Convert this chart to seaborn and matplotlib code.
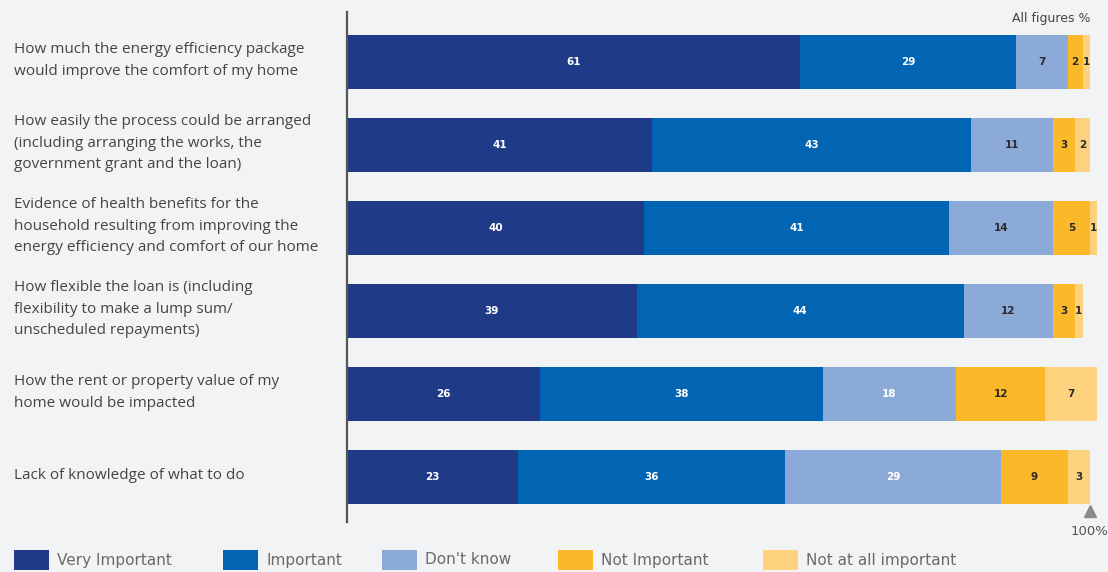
import matplotlib
matplotlib.use("Agg")
import matplotlib.pyplot as plt
import matplotlib.transforms as mtransforms
from matplotlib.patches import Rectangle
import numpy as np
import pandas as pd
import seaborn as sns

# Survey factors (one row per question)
factors = [
    "How much the energy efficiency package\nwould improve the comfort of my home",
    "How easily the process could be arranged\n(including arranging the works, the\ngovernment grant and the loan)",
    "Evidence of health benefits for the\nhousehold resulting from improving the\nenergy efficiency and comfort of our home",
    "How flexible the loan is (including\nflexibility to make a lump sum/\nunscheduled repayments)",
    "How the rent or property value of my\nhome would be impacted",
    "Lack of knowledge of what to do",
]

responses = ["Very Important", "Important", "Don't know", "Not Important", "Not at all important"]

very_important = [61, 41, 40, 39, 26, 23]
important = [29, 43, 41, 44, 38, 36]
dont_know = [7, 11, 14, 12, 18, 29]
not_important = [2, 3, 5, 3, 12, 9]
not_at_all = [1, 2, 1, 1, 7, 3]

colors = ["#1f3b87", "#0265b3", "#8caad8", "#fbb829", "#fdd27e"]
label_colors = ["white", "white", None, "#2a2a2a", "#2a2a2a"]

series = [very_important, important, dont_know, not_important, not_at_all]
keys = ["f%d" % i for i in range(len(factors))]
df = pd.DataFrame({"factor": keys})
for name, vals in zip(responses, series):
    df[name] = vals
cum = df[responses].cumsum(axis=1)

bg = "#f2f3f5"
fig = plt.figure(figsize=(11.08, 5.72), dpi=100, facecolor=bg)
ax = fig.add_axes([347 / 1108, 1 - 522 / 572, 753 / 1108, 510 / 572])
ax.set_facecolor(bg)

# Stacked bars: draw cumulative totals from the outermost segment inward
for i in range(len(responses) - 1, -1, -1):
    sns.barplot(data=cum.assign(factor=keys), x=responses[i], y="factor",
                order=keys, orient="h", color=colors[i], width=0.64,
                linewidth=0, saturation=1, ax=ax)

# Segment value labels
for i, name in enumerate(responses):
    for r in range(len(keys)):
        v = df[name].iloc[r]
        center = cum[name].iloc[r] - v / 2
        if name == "Don't know":
            tc = "#2a2a2a" if v < 15 else "white"
        else:
            tc = label_colors[i]
        ax.text(center, r, str(v), ha="center", va="center", fontsize=7.5,
                fontweight="bold", color=tc,
                family=["Liberation Sans Narrow", "DejaVu Sans"])

ax.set_xlim(0, 753 / 7.43)
ax.set_ylim(5 + 45 / 83, -50 / 83)
ax.set_xlabel("")
ax.set_ylabel("")
ax.set_xticks([])
ax.set_yticks([])
for s in ["top", "right", "bottom"]:
    ax.spines[s].set_visible(False)
ax.spines["left"].set_color("#555555")
ax.spines["left"].set_linewidth(1.6)

# Question labels on the left
trans = mtransforms.blended_transform_factory(fig.transFigure, ax.transData)
for r, lab in enumerate(factors):
    ax.text(14 / 1108, r - 0.02, lab, transform=trans, ha="left", va="center",
            fontsize=11, color="#444444", linespacing=1.6, family="Open Sans")

# Units note and the 100% marker
ax.text(100, -0.52, "All figures %", ha="right", va="center", fontsize=9,
        color="#444444", family=["Liberation Sans Narrow", "DejaVu Sans"])
ax.plot([100], [5.41], marker="^", markersize=8, color="#8a8a8a", clip_on=False)
ax.text(100, 5.66, "100%", ha="center", va="center", fontsize=9.5,
        color="#555555", clip_on=False,
        family=["Liberation Sans Narrow", "DejaVu Sans"])

# Legend row along the bottom
swatch_x = [14, 223, 382, 558, 763]
for x0, col, name in zip(swatch_x, colors, responses):
    fig.patches.append(Rectangle((x0 / 1108, 1 - 570 / 572), 35 / 1108, 20 / 572,
                                 transform=fig.transFigure, facecolor=col,
                                 edgecolor="none"))
    fig.text((x0 + 43) / 1108, 1 - 560 / 572, name, ha="left", va="center",
             fontsize=11, color="#6a6a6a",
             family=["Liberation Sans Narrow", "DejaVu Sans"])

fig.savefig("out.png", dpi=100, facecolor=bg)
